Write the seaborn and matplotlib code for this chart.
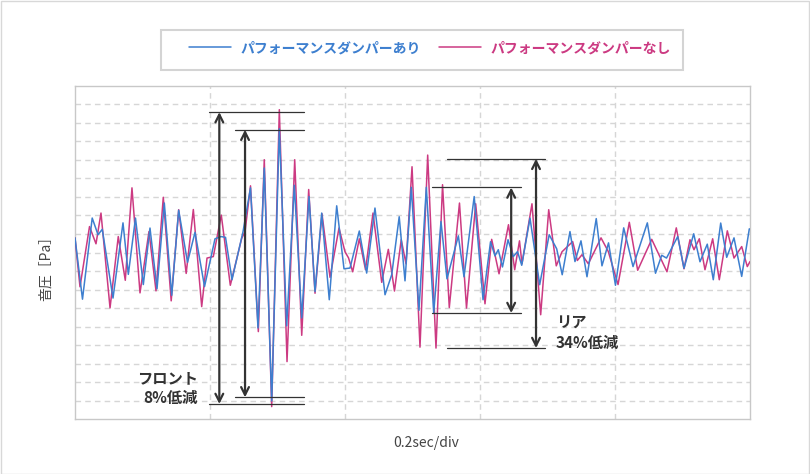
import pandas as pd
import seaborn as sns
import matplotlib.pyplot as plt
from matplotlib.patches import Rectangle

# time in ms (0.2 sec/div), pressure in grid units
blue_t = [0, 11.1, 25.5, 34.1, 40.4, 56.3, 71.1, 79.0, 89.6, 101.2, 111.1, 121.5, 132.3, 143.3,
          153.6, 166.7, 177.8, 191.9, 207.4, 216.3, 223.0, 232.6, 248.9, 260.0, 271.1, 280.4,
          291.4, 302.7, 313.6, 324.9, 335.9, 346.7, 355.6, 365.5, 376.7, 387.7, 398.5, 407.4,
          421.2, 432.1, 444.4, 459.3, 469.2, 480.3, 488.9, 498.2, 509.6, 520.5, 531.4, 542.2,
          551.1, 567.9, 576.3, 591.4, 604.5, 615.6, 622.2, 627.1, 633.3, 641.5, 649.3, 655.6,
          661.8, 674.1, 688.4, 702.5, 713.6, 721.8, 733.3, 740.7, 749.6, 758.5, 772.2, 780.7,
          790.4, 800.7, 812.9, 826.7, 847.9, 860.0, 869.2, 876.3, 892.9, 902.2, 916.6, 925.9,
          936.7, 945.6, 956.6, 965.5, 976.3, 987.7, 999.0]
blue_p = [0.79, -2.52, 1.86, 0.96, 1.25, -2.46, 1.60, -1.18, 1.86, -1.73, 1.32, -1.96, 2.67, -2.31,
          2.28, -0.53, 1.09, -1.84, 0.74, 0.86, 0.82, -1.47, 1.12, 3.49, -4.07, 4.56,
          -8.01, 6.68, -3.96, 3.63, -3.53, 3.02, -2.11, 2.13, -2.55, 2.52, -0.88, -0.84,
          1.16, -1.11, 2.40, -2.28, -1.20, 1.93, -1.53, 3.52, -3.12, 3.52, -3.27, 1.67,
          -1.42, 0.90, -1.31, 3.02, -2.55, 0.58, -0.18, 0.15, -0.78, 0.69, -0.22, 0.05,
          -0.69, 1.86, -1.74, 0.96, 0.20, -1.20, 1.13, -0.49, 0.63, -1.31, 1.83, -0.72,
          0.52, -1.77, 1.33, -0.76, 1.60, -1.12, -0.15, -0.30, 0.86, -0.85, 1.01, -0.50,
          0.45, -1.47, 1.59, -0.26, 0.79, -1.29, 1.28]

mag_t = [0, 7.4, 21.5, 31.1, 38.5, 51.9, 64.1, 74.5, 84.4, 96.3, 109.6, 120.0, 130.8, 142.5,
         153.6, 164.7, 175.3, 187.7, 195.6, 204.9, 216.7, 230.1, 247.0, 251.9, 260.0, 271.6,
         280.4, 291.4, 302.7, 314.1, 325.5, 335.9, 346.2, 355.6, 365.9, 377.8, 391.1, 400.0,
         405.2, 411.4, 421.2, 430.4, 441.5, 454.4, 464.2, 473.3, 483.3, 490.4, 499.3, 511.1,
         522.5, 534.8, 544.5, 554.5, 569.6, 580.0, 593.6, 607.4, 617.3, 628.2, 642.2, 651.4,
         658.5, 662.2, 677.0, 689.9, 701.8, 713.0, 721.5, 737.3, 744.2, 751.1, 760.5, 779.3,
         790.1, 804.5, 821.2, 833.6, 854.4, 877.0, 890.8, 902.2, 911.1, 917.0, 924.9, 933.3,
         944.7, 954.5, 966.4, 976.3, 987.7, 996.0, 1000.0]
mag_p = [0.79, -1.85, 1.40, 0.47, 2.13, -2.99, 0.86, -1.50, 3.49, -2.18, 1.13, -2.07, 2.98, -2.61,
         2.31, -1.13, 2.32, -2.92, -0.30, -0.22, 2.02, -1.77, 0.77, 1.13, 3.60, -4.27,
         5.01, -8.32, 7.71, -5.89, 5.01, -4.47, 3.40, -2.20, 2.09, -1.34, 1.32, 0.04,
         -0.29, -1.04, 0.74, -0.93, 2.13, -1.61, 0.17, -2.08, 0.69, -0.61, 4.63, -5.11,
         5.26, -5.16, 3.66, -2.97, 2.67, -3.00, 2.63, -2.77, 0.71, -1.15, 1.50, -0.93,
         0.63, -0.61, 2.63, -3.36, 2.31, -0.72, 0.04, 0.59, -0.43, -0.12, -0.61, 0.79,
         0.05, -1.73, 1.63, -0.96, 0.71, -1.04, 1.33, -0.88, 0.69, 0.15, 0.74, -0.93,
         0.74, -1.47, 1.17, -0.30, 0.32, -0.76, -0.49]

series_names = ["パフォーマンスダンパーあり", "パフォーマンスダンパーなし"]

# peak-to-peak reference levels: (outer top, outer bottom, inner top, inner bottom)
front_levels = [7.58, -8.18, 6.63, -7.82]
rear_levels = [5.06, -5.16, 3.51, -3.27]
front_text = "フロント\n8%低減"
rear_text = "リア\n34%低減"

BLUE = "#3d7fcf"
MAGENTA = "#cc3a82"

df = pd.concat([
    pd.DataFrame({"t": blue_t, "p": blue_p, "series": series_names[0]}),
    pd.DataFrame({"t": mag_t, "p": mag_p, "series": series_names[1]}),
])

sns.set_theme(style="white")
plt.rcParams["font.family"] = ["Noto Sans CJK JP", "DejaVu Sans"]

fig = plt.figure(figsize=(8.1, 4.74), dpi=100)
ax = fig.add_axes([75 / 810, 1 - 419.2 / 474, 675 / 810, 333.4 / 474])

# magenta underneath, blue on top
sns.lineplot(data=df[df.series == series_names[1]], x="t", y="p", color=MAGENTA,
             lw=1.1, ax=ax, label=series_names[1], zorder=3)
sns.lineplot(data=df[df.series == series_names[0]], x="t", y="p", color=BLUE,
             lw=1.1, ax=ax, label=series_names[0], zorder=4)
for ln in ax.get_lines():
    ln.set_solid_joinstyle("round")

ax.set_xlim(0, 1000)
ax.set_ylim(-9, 9)
ax.set_xticks([200, 400, 600, 800])
ax.set_yticks(range(-8, 9))
ax.tick_params(length=0, labelbottom=False, labelleft=False)
ax.grid(True, color="#d6d6d6", lw=1, ls=(0, (4, 3)))
for s in ax.spines.values():
    s.set_color("#c8c8c8")
    s.set_linewidth(1)
ax.set_xlabel("")
ax.set_ylabel("")


def peak_marks(levels, x_outer, x_inner, line_outer, line_inner):
    top_o, bot_o, top_i, bot_i = levels
    for y in (top_o, bot_o):
        ax.plot(line_outer, [y, y], color="#333333", lw=0.9, zorder=5)
    for y in (top_i, bot_i):
        ax.plot(line_inner, [y, y], color="#333333", lw=0.9, zorder=5)
    for x, t, b in ((x_outer, top_o, bot_o), (x_inner, top_i, bot_i)):
        ax.annotate("", xy=(x, t), xytext=(x, b), zorder=6,
                    arrowprops=dict(arrowstyle="<->", color="#333333", lw=1.6,
                                    mutation_scale=14, shrinkA=0, shrinkB=0))


peak_marks(front_levels, 213.8, 251.9, [198.5, 339.3], [237.0, 339.3])
peak_marks(rear_levels, 683.0, 646.2, [551.6, 696.3], [529.3, 660.3])

ax.text(182, -7.31, front_text, ha="right", va="center", multialignment="right",
        fontsize=11, fontweight="bold", color="#333333", linespacing=1.25)
ax.text(712.6, -4.34, rear_text, ha="left", va="center", multialignment="left",
        fontsize=11, fontweight="bold", color="#333333", linespacing=1.25)

fig.text(45.5 / 810, 1 - 265 / 474, "音圧［Pa］", rotation=90, ha="center", va="center",
         fontsize=10, color="#444444")
fig.text(426 / 810, 1 - 442.7 / 474, "0.2sec/div", ha="center", va="center",
         fontsize=10, color="#444444")

# legend frame and entries
fig.patches.append(Rectangle((161 / 810, 1 - 70 / 474), 522 / 810, 40 / 474,
                             transform=fig.transFigure, fill=False,
                             edgecolor="#d4d4d4", lw=1.5))
handles, labels = ax.get_legend_handles_labels()
order = [labels.index(n) for n in series_names]
leg = ax.legend([handles[i] for i in order], [labels[i] for i in order],
                loc="center", bbox_to_anchor=(430 / 810, 1 - 48.3 / 474),
                bbox_transform=fig.transFigure, ncol=2, frameon=False,
                fontsize=10, handlelength=3.0, handletextpad=0.7, columnspacing=1.3)
for txt, col in zip(leg.get_texts(), [BLUE, MAGENTA]):
    txt.set_color(col)
    txt.set_fontweight("bold")

fig.patches.append(Rectangle((0.5 / 810, 0.5 / 474), 808.5 / 810, 472.5 / 474,
                             transform=fig.transFigure, fill=False,
                             edgecolor="#d8d8d8", lw=1))

fig.savefig("out.png", dpi=100)
